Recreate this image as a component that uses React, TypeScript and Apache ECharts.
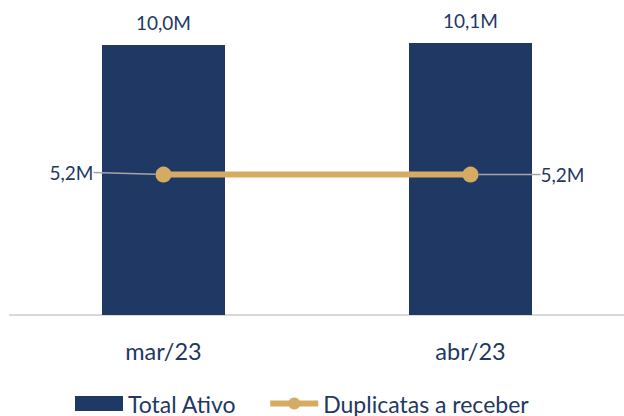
import React, { useEffect, useRef } from "react";
import * as echarts from "echarts";

const categories = ["mar/23", "abr/23"];
const totalAtivo = [10.0, 10.07];
const duplicatas = [5.2, 5.2];
const seriesNames = ["Total Ativo", "Duplicatas a receber"];

const NAVY = "#1F3864";
const GOLD = "#D5AB62";
const FONT = "Lato, 'Open Sans', sans-serif";

const fmt = (v: number) => v.toFixed(1).replace(".", ",") + "M";

export default function App() {
  const ref = useRef<HTMLDivElement>(null);
  useEffect(() => {
    if (!ref.current) return;
    const chart = echarts.init(ref.current, undefined, { renderer: "svg" });
    chart.setOption({
      animation: false,
      textStyle: { fontFamily: FONT },
      grid: { left: 10, right: 0, top: 18, bottom: 101 },
      xAxis: {
        type: "category",
        data: categories,
        axisLine: { show: true, lineStyle: { color: "#D9D9D9", width: 2 } },
        axisTick: { show: false },
        axisLabel: { color: NAVY, fontSize: 23.5, margin: 24, fontFamily: FONT },
      },
      yAxis: { type: "value", min: 0, max: 11, show: false, splitLine: { show: false } },
      legend: {
        data: [
          { name: seriesNames[0], icon: "rect" },
          { name: seriesNames[1], lineStyle: { width: 6 } },
        ],
        left: 70,
        top: 387,
        itemWidth: 48,
        itemHeight: 15,
        itemGap: 31,
        textStyle: { color: NAVY, fontSize: 23, fontFamily: FONT },
      },
      series: [
        {
          name: seriesNames[0],
          type: "bar",
          data: totalAtivo,
          barWidth: 123,
          itemStyle: { color: NAVY },
          label: {
            show: true,
            position: "top",
            distance: 13,
            color: NAVY,
            fontSize: 19,
            fontFamily: FONT,
            formatter: (p: any) => fmt(p.value),
          },
        },
        {
          name: seriesNames[1],
          type: "line",
          data: [
            { value: duplicatas[0], label: { position: "left" } },
            { value: duplicatas[1], label: { position: "right" } },
          ],
          symbol: "circle",
          symbolSize: 16,
          lineStyle: { color: GOLD, width: 6 },
          itemStyle: { color: GOLD },
          label: {
            show: true,
            color: NAVY,
            fontSize: 19,
            fontFamily: FONT,
            formatter: (p: any) => fmt(p.value),
          },
          labelLine: { show: true, lineStyle: { color: "#A6A6A6", width: 1.5 } },
          labelLayout: (params: any) =>
            params.dataIndex === 0 ? { dx: -57, dy: -2 } : { dx: 57 },
          z: 3,
        },
      ],
    });
    return () => chart.dispose();
  }, []);
  return <div ref={ref} style={{ width: 624, height: 416, position: "absolute", left: 0, top: 0 }} />;
}
